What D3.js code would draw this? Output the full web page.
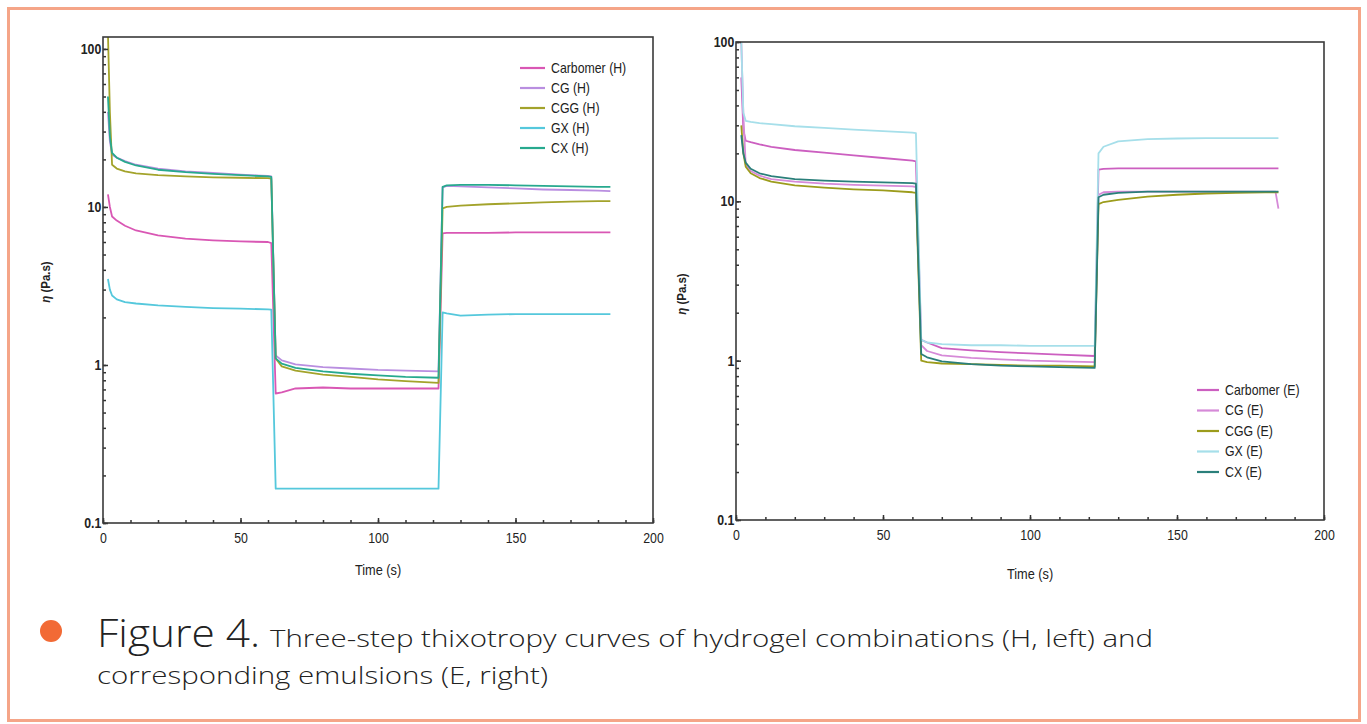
<!DOCTYPE html>
<html>
<head>
<meta charset="utf-8">
<script src="https://cdn.jsdelivr.net/npm/d3@7"></script>
<style>
  html, body { margin: 0; padding: 0; background: #fff; }
  svg { display: block; }
</style>
</head>
<body>
<svg id="fig" width="1367" height="724"></svg>
<script>
// ---- Hydrogels (H): sampling times (s) and viscosity (Pa.s) ----
const timeH = [1.8, 2.5, 3.3, 5, 8, 12, 20, 30, 40, 50, 60, 61.2, 62.8, 65, 70, 80, 90, 100, 110, 122,
               123.5, 125, 130, 140, 150, 160, 170, 180, 184.5];
const carbomerH = [12.0, 10.0, 8.7, 8.2, 7.6, 7.1, 6.6, 6.3, 6.15, 6.05, 6.0, 5.9,
                   0.66, 0.67, 0.71, 0.72, 0.71, 0.71, 0.71, 0.71,
                   6.8, 6.85, 6.85, 6.85, 6.9, 6.9, 6.9, 6.9, 6.9];
const cgH = [40, 26, 21.5, 20.5, 19.5, 18.5, 17.5, 16.8, 16.4, 16.0, 15.7, 15.6,
             1.15, 1.07, 1.01, 0.97, 0.95, 0.93, 0.92, 0.91,
             13.3, 13.6, 13.5, 13.3, 13.1, 12.9, 12.8, 12.7, 12.6];
const cggH = [125, 40, 18.5, 17.5, 16.8, 16.3, 15.9, 15.6, 15.4, 15.3, 15.2, 15.1,
              1.1, 0.98, 0.92, 0.87, 0.84, 0.81, 0.79, 0.77,
              9.8, 10.0, 10.2, 10.4, 10.55, 10.7, 10.8, 10.9, 10.9];
const gxH = [3.5, 3.0, 2.75, 2.6, 2.5, 2.45, 2.38, 2.33, 2.29, 2.27, 2.25, 2.24,
             0.165, 0.165, 0.165, 0.165, 0.165, 0.165, 0.165, 0.165,
             2.15, 2.12, 2.05, 2.08, 2.1, 2.1, 2.1, 2.1, 2.1];
const cxH = [50, 28, 22, 20.5, 19.3, 18.3, 17.2, 16.6, 16.2, 15.9, 15.6, 15.5,
             1.1, 1.02, 0.96, 0.91, 0.88, 0.86, 0.84, 0.83,
             13.4, 13.7, 13.8, 13.8, 13.7, 13.6, 13.5, 13.4, 13.4];

// ---- Emulsions (E) ----
const timeE = [1.8, 2.5, 3.3, 5, 8, 12, 20, 30, 40, 50, 60, 61.2, 63, 65, 70, 80, 90, 100, 110, 122,
               123.3, 125, 130, 140, 150, 160, 170, 180, 183.5, 184.5];
const carbomerE = [60, 28, 24, 23.5, 22.8, 22, 21, 20.2, 19.4, 18.7, 18.0, 17.8,
                   1.35, 1.3, 1.2, 1.16, 1.13, 1.11, 1.09, 1.07,
                   15.8, 16.0, 16.1, 16.1, 16.1, 16.1, 16.1, 16.1, 16.1, 16.1];
const cgE = [100, 35, 17, 15.5, 14.5, 13.8, 13.3, 12.9, 12.7, 12.55, 12.4, 12.3,
             1.25, 1.15, 1.08, 1.04, 1.02, 1.0, 0.99, 0.98,
             11.0, 11.4, 11.5, 11.5, 11.5, 11.5, 11.5, 11.5, 11.5, 9.0];
const cggE = [30, 20, 16.5, 15.0, 14.0, 13.3, 12.6, 12.2, 11.9, 11.7, 11.4, 11.3,
              1.0, 0.98, 0.96, 0.95, 0.94, 0.93, 0.93, 0.92,
              9.6, 9.9, 10.2, 10.7, 11.0, 11.2, 11.3, 11.4, 11.4, 11.4];
const gxE = [100, 36, 32, 31.5, 31, 30.5, 29.6, 28.9, 28.2, 27.6, 27.0, 26.8,
             1.35, 1.3, 1.27, 1.25, 1.25, 1.24, 1.24, 1.24,
             20, 22, 23.8, 24.6, 24.8, 24.9, 24.9, 24.9, 24.9, 24.9];
const cxE = [26, 20, 17.5, 16.0, 15.0, 14.4, 13.8, 13.5, 13.3, 13.15, 13.0, 12.9,
             1.1, 1.05, 0.99, 0.95, 0.93, 0.92, 0.91, 0.9,
             10.6, 11.0, 11.3, 11.5, 11.5, 11.5, 11.5, 11.5, 11.5, 11.5];

// ---- Labels and ticks ----
const namesH = ["Carbomer (H)", "CG (H)", "CGG (H)", "GX (H)", "CX (H)"];
const namesE = ["Carbomer (E)", "CG (E)", "CGG (E)", "GX (E)", "CX (E)"];
const colorsH = ["#d957b4", "#b98ee0", "#a3a32b", "#55c8dc", "#27a98e"];
const colorsE = ["#cc5fc0", "#d68ad8", "#9c9c1c", "#a6dfea", "#2a7f7a"];
const xTickValues = [0, 50, 100, 150, 200];
const xTickLabels = ["0", "50", "100", "150", "200"];
const yTickValues = [0.1, 1, 10, 100];
const yTickLabels = ["0.1", "1", "10", "100"];
const xTitle = "Time (s)";
const captionHead = "Figure 4.";
const captionLine1 = "Three-step thixotropy curves of hydrogel combinations (H, left) and";
const captionLine2 = "corresponding emulsions (E, right)";

// condensed look: Liberation Sans squeezed horizontally
const plotFont = "'Liberation Sans', Arial, sans-serif";
const SQUEEZE = 0.88;
const captionFont = "'Open Sans', Lato, sans-serif";
const svg = d3.select("#fig");

// page frame
svg.append("rect")
  .attr("x", 8.5).attr("y", 8.5).attr("width", 1351).attr("height", 712)
  .attr("fill", "none").attr("stroke", "#f5a588").attr("stroke-width", 3);

// text drawn at (x, y) with a narrowed glyph width
function squeezedText(parent, x, y, str) {
  return parent.append("g")
    .attr("transform", `translate(${x},${y}) scale(${SQUEEZE},1)`)
    .append("text").text(str);
}

function drawPanel(p, idx) {
  const x = d3.scaleLinear().domain([0, 200]).range([p.left, p.right]);
  const y = d3.scaleLog().domain([0.1, p.yMax]).range([p.bottom, p.top]);
  const g = svg.append("g");

  const clipId = "plotclip" + idx;
  svg.append("clipPath").attr("id", clipId).append("rect")
    .attr("x", p.left).attr("y", p.top)
    .attr("width", p.right - p.left).attr("height", p.bottom - p.top);

  // curves
  const line = d3.line()
    .x((d, i) => x(p.time[i]))
    .y(d => y(d));
  const curves = g.append("g").attr("clip-path", `url(#${clipId})`);
  p.series.forEach((vals, i) => {
    curves.append("path")
      .datum(vals)
      .attr("d", line)
      .attr("fill", "none")
      .attr("stroke", p.colors[i])
      .attr("stroke-width", 1.8)
      .attr("stroke-linejoin", "round");
  });

  // minor ticks
  g.append("g").attr("transform", `translate(0,${p.bottom})`)
    .call(d3.axisBottom(x).tickValues(d3.range(0, 201, 10)).tickFormat("").tickSizeInner(-3).tickSizeOuter(0))
    .call(a => a.select(".domain").remove())
    .call(a => a.selectAll("line").attr("stroke", "#333").attr("stroke-width", 1.5));
  g.append("g").attr("transform", `translate(${p.left},0)`)
    .call(d3.axisLeft(y).tickValues(y.ticks()).tickFormat("").tickSizeInner(-3).tickSizeOuter(0))
    .call(a => a.select(".domain").remove())
    .call(a => a.selectAll("line").attr("stroke", "#333").attr("stroke-width", 1.5));

  // major ticks + labels
  g.append("g").attr("transform", `translate(0,${p.bottom})`)
    .call(d3.axisBottom(x).tickValues(xTickValues).tickFormat((d, i) => xTickLabels[i])
      .tickSizeInner(-5).tickSizeOuter(0).tickPadding(10))
    .call(a => a.select(".domain").remove())
    .call(a => a.selectAll("line").attr("stroke", "#333").attr("stroke-width", 1.5))
    .call(a => a.selectAll("text").attr("font-family", plotFont).attr("font-size", 14)
      .attr("fill", "#222").attr("dy", "0.71em").attr("transform", `scale(${SQUEEZE},1)`));
  g.append("g").attr("transform", `translate(${p.left},0)`)
    .call(d3.axisLeft(y).tickValues(yTickValues).tickFormat((d, i) => yTickLabels[i])
      .tickSizeInner(-5).tickSizeOuter(0).tickPadding(2))
    .call(a => a.select(".domain").remove())
    .call(a => a.selectAll("line").attr("stroke", "#333").attr("stroke-width", 1.5))
    .call(a => a.selectAll("text").attr("font-family", plotFont).attr("font-size", 14)
      .attr("font-weight", "bold").attr("fill", "#222").attr("transform", `scale(${SQUEEZE},1)`));

  // frame of the plot area
  g.append("rect")
    .attr("x", p.left).attr("y", p.top)
    .attr("width", p.right - p.left).attr("height", p.bottom - p.top)
    .attr("fill", "none").attr("stroke", "#3a3a3a").attr("stroke-width", 1.6);

  // axis titles
  squeezedText(g, (p.left + p.right) / 2, p.xTitleY, xTitle)
    .attr("text-anchor", "middle")
    .attr("font-family", plotFont).attr("font-size", 14.5).attr("fill", "#222");
  const yt = g.append("text")
    .attr("transform", `translate(${p.yTitleX},${p.yTitleY}) rotate(-90) scale(${SQUEEZE},1)`)
    .attr("text-anchor", "middle")
    .attr("font-family", plotFont).attr("font-size", 13).attr("font-weight", "bold").attr("fill", "#222");
  yt.append("tspan").attr("font-style", "italic").text("η");
  yt.append("tspan").text(" (Pa.s)");

  // legend
  const lg = g.append("g");
  p.names.forEach((name, i) => {
    const ly = p.legendY + i * p.legendStep;
    lg.append("line")
      .attr("x1", p.legendX).attr("x2", p.legendX + p.legendLen)
      .attr("y1", ly).attr("y2", ly)
      .attr("stroke", p.colors[i]).attr("stroke-width", 2.2);
    squeezedText(lg, p.legendX + p.legendLen + 6, ly, name)
      .attr("dy", "0.35em")
      .attr("font-family", plotFont).attr("font-size", 14).attr("fill", "#222");
  });
}

drawPanel({
  left: 103, right: 653, top: 37, bottom: 523, yMax: 119,
  time: timeH, series: [carbomerH, cgH, cggH, gxH, cxH],
  names: namesH, colors: colorsH,
  legendX: 520, legendY: 68, legendStep: 20, legendLen: 25,
  xTitleY: 575, yTitleX: 50, yTitleY: 282
}, 0);

drawPanel({
  left: 736, right: 1324, top: 42, bottom: 520, yMax: 100,
  time: timeE, series: [carbomerE, cgE, cggE, gxE, cxE],
  names: namesE, colors: colorsE,
  legendX: 1197, legendY: 390, legendStep: 20.5, legendLen: 22,
  xTitleY: 579, yTitleX: 686, yTitleY: 294
}, 1);

// caption
const cap = svg.append("g");
cap.append("circle").attr("cx", 51).attr("cy", 631).attr("r", 11).attr("fill", "#f26a35");
cap.append("text")
  .attr("x", 97).attr("y", 647)
  .attr("font-family", captionFont).attr("font-weight", 300)
  .attr("font-size", 38).attr("fill", "#222")
  .attr("textLength", 163).attr("lengthAdjust", "spacingAndGlyphs")
  .text(captionHead);
cap.append("text")
  .attr("x", 270).attr("y", 647)
  .attr("font-family", captionFont).attr("font-weight", 300)
  .attr("font-size", 24).attr("fill", "#222")
  .attr("textLength", 883).attr("lengthAdjust", "spacingAndGlyphs")
  .text(captionLine1);
cap.append("text")
  .attr("x", 97).attr("y", 684)
  .attr("font-family", captionFont).attr("font-weight", 300)
  .attr("font-size", 24).attr("fill", "#222")
  .attr("textLength", 451).attr("lengthAdjust", "spacingAndGlyphs")
  .text(captionLine2);
</script>
</body>
</html>
